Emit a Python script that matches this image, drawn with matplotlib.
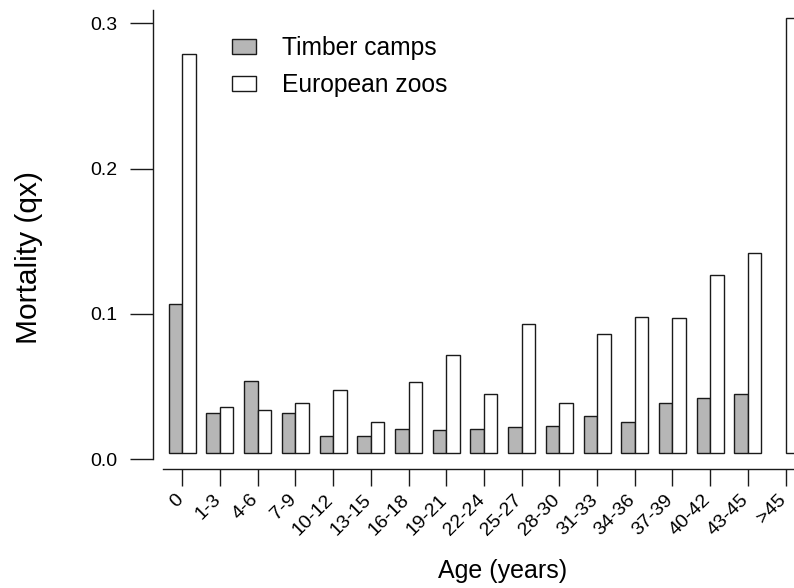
import numpy as np
import matplotlib
matplotlib.use("Agg")
import matplotlib.pyplot as plt
from matplotlib.transforms import ScaledTranslation

plt.rcParams["font.family"] = ["Liberation Sans", "DejaVu Sans"]

age_groups = ["0", "1-3", "4-6", "7-9", "10-12", "13-15", "16-18", "19-21", "22-24",
              "25-27", "28-30", "31-33", "34-36", "37-39", "40-42", "43-45", ">45"]
timber_camps = [0.107, 0.032, 0.054, 0.032, 0.016, 0.016, 0.021, 0.020, 0.021,
                0.022, 0.023, 0.030, 0.026, 0.039, 0.042, 0.045, np.nan]
european_zoos = [0.279, 0.036, 0.034, 0.039, 0.048, 0.026, 0.053, 0.072, 0.045,
                 0.093, 0.039, 0.086, 0.098, 0.097, 0.127, 0.142, 0.304]
y_ticks = [0.0, 0.1, 0.2, 0.3]

W, H = 794, 588
fig = plt.figure(figsize=(W / 100, H / 100), dpi=100)
# plot region runs off the right edge, like the cropped original figure
ax = fig.add_axes([153 / W, (H - 469) / H, (W - 153) / W, (469 - 10) / H])

base = 0.004
bw = 0.358
x = np.arange(len(age_groups))
tc = np.array(timber_camps, dtype=float)
ez = np.array(european_zoos, dtype=float)
ok = np.isfinite(tc)

ax.bar(x[ok] - bw, tc[ok] - base, width=bw, bottom=base, align="edge",
       color="#b6b6b6", edgecolor="#1a1a1a", linewidth=1.0, label="Timber camps")
ax.bar(x, ez - base, width=bw, bottom=base, align="edge",
       color="white", edgecolor="#1a1a1a", linewidth=1.0, label="European zoos")

ax.set_xlim(-0.777, 16.225)
ax.set_ylim(-0.00667, 0.3092)

for s in ("top", "right"):
    ax.spines[s].set_visible(False)
ax.spines["left"].set_bounds(0, 0.3092)
ax.spines["bottom"].set_bounds(-0.504, 16.225)
for s in ("left", "bottom"):
    ax.spines[s].set_linewidth(1.0)
    ax.spines[s].set_color("#1a1a1a")

ax.set_yticks(y_ticks)
ax.set_yticklabels([f"{v:.1f}" for v in y_ticks])
ax.tick_params(axis="y", length=16.6, width=1.0, pad=9, labelsize=14, color="#1a1a1a")

ax.set_xticks(x)
ax.set_xticklabels(age_groups, rotation=45, ha="right", va="center",
                   rotation_mode="anchor")
ax.tick_params(axis="x", length=12.2, width=1.0, pad=8, labelsize=14, color="#1a1a1a")
shift = ScaledTranslation(-2 / 100, 0, fig.dpi_scale_trans)
for lab in ax.get_xticklabels():
    lab.set_transform(lab.get_transform() + shift)

fig.text(503 / W, 1 - 571 / H, "Age (years)", ha="center", va="center", fontsize=18)
fig.text(29 / W, 1 - 258 / H, "Mortality (qx)", ha="center", va="center",
         rotation=90, fontsize=21.5)

ax.legend(loc="upper left", bbox_to_anchor=(232 / W, 1 - 36 / H),
          bbox_transform=fig.transFigure, frameon=False, fontsize=17.7,
          borderpad=0, borderaxespad=0, handlelength=0.96, handleheight=0.6,
          handletextpad=1.08, labelspacing=0.53)

fig.savefig("out.png", dpi=100)
